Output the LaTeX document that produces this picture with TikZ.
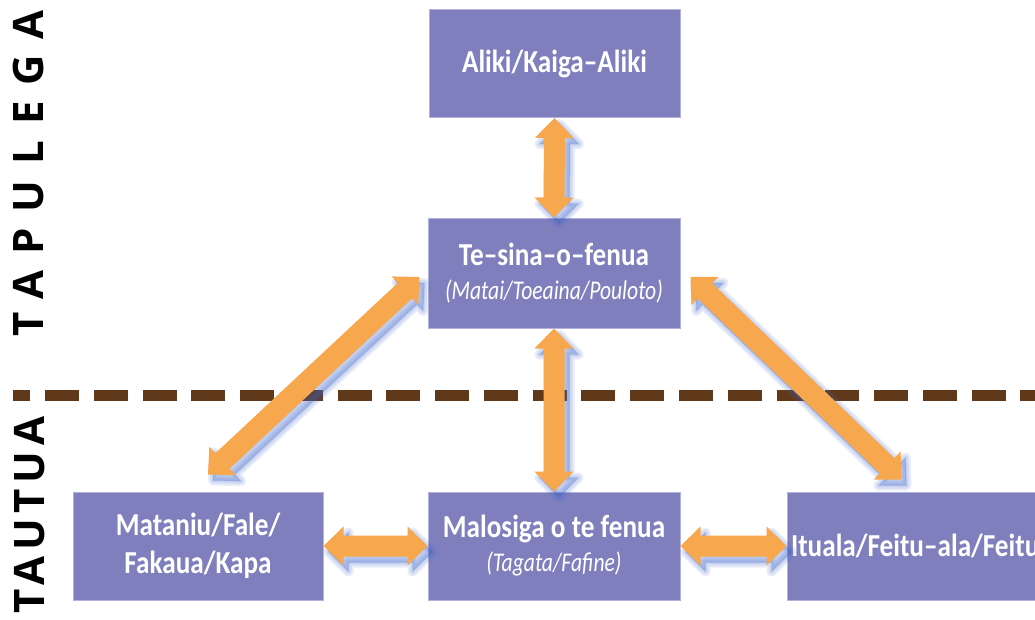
\documentclass[tikz,border=0pt]{standalone}
\usepackage{fontspec}
\setmainfont{Carlito}
\newfontfamily\boxfont{Carlito}[FakeStretch=0.85]
\newfontfamily\itboxfont{Carlito}[FakeStretch=0.8]
\newfontfamily\sidefont{Open Sans}
\usetikzlibrary{calc}
\definecolor{boxfill}{RGB}{127,127,190}
\definecolor{boxline}{RGB}{178,178,222}
\definecolor{arrorange}{RGB}{247,167,77}
\definecolor{shadowblue}{RGB}{60,100,200}
\definecolor{dashbrown}{RGB}{96,57,26}
\newcommand{\boldline}{\fontsize{32}{34}\selectfont\bfseries}
\newcommand{\itline}{\itboxfont\fontsize{27}{34}\selectfont\mdseries\itshape}
\newcommand{\arrpoly}[2]{(#1) -- ($(a1)!19.5pt!90:(#2)$) -- ($(a1)!10.5pt!90:(#2)$) -- ($(b1)!10.5pt!-90:(#1)$) -- ($(b1)!19.5pt!-90:(#1)$) -- (#2) -- ($(b1)!19.5pt!90:(#1)$) -- ($(b1)!10.5pt!90:(#1)$) -- ($(a1)!10.5pt!-90:(#2)$) -- ($(a1)!19.5pt!-90:(#2)$) -- cycle}
\newcommand{\dbarrow}[2]{%
  \coordinate (a1) at ($(#1)!20pt!(#2)$);
  \coordinate (b1) at ($(#2)!20pt!(#1)$);
  \begin{scope}[transform canvas={xshift=5pt,yshift=-6pt}]
    \foreach \w in {10,6,2}{\filldraw[shadowlayer, line width=\w pt] \arrpoly{#1}{#2};}
  \end{scope}
  \fill[arrorange] \arrpoly{#1}{#2};
}
\begin{document}
\begin{tikzpicture}[x=1pt,y=-1pt,
  blockbox/.style={draw=boxline, line width=1pt, fill=boxfill, text=white,
    minimum width=251pt, minimum height=108pt, inner sep=0pt, align=center,
    font=\boxfont\boldline},
  shadowlayer/.style={draw=shadowblue, fill=shadowblue, draw opacity=0.12,
    fill opacity=0.12, line join=round},
  sidelabel/.style={rotate=90, inner sep=0pt, text=black},
  dashline/.style={dashbrown, line width=11pt, dash pattern=on 34pt off 14.77pt, dash phase=16.77pt}
]
\useasboundingbox (0,0) rectangle (1035,619);
\clip (0,0) rectangle (1035,619);

% side labels
\node[sidelabel, font={\sidefont\fontsize{42}{42}\selectfont\bfseries\addfontfeature{LetterSpace=38}}] (tapulega) at (28.5,173.5) {TAPULEGA};
\node[sidelabel, font={\sidefont\fontsize{42}{42}\selectfont\bfseries\addfontfeature{LetterSpace=14}}] (tautua) at (30,515) {TAUTUA};

% dashed divider
\coordinate (dashL) at (13,395);
\coordinate (dashR) at (1035,395);
\draw[dashline] (dashL) -- (dashR);

% boxes
\node[blockbox] (top) at (554.5,63.5) {Aliki/Kaiga–Aliki};
\node[blockbox, minimum width=252pt, minimum height=110pt] (mid) at (554,273) {Te–sina–o–fenua\\{\itline (Matai/Toeaina/Pouloto)}};
\node[blockbox, minimum width=250pt] (bl) at (198,546) {Mataniu/Fale/\\[4pt]Fakaua/Kapa};
\node[blockbox, minimum width=252pt] (bc) at (554,546) {Malosiga o te fenua\\{\itline (Tagata/Fafine)}};
\node[blockbox, minimum width=270pt, text width=262pt, align=left] (br) at (922,546) {Ituala/Feitu–ala/Feitu};

% connector end points
\coordinate (dlA) at ($(mid.west)+(-8,4)$);
\coordinate (dlB) at ($(bl.north)+(10,-17)$);
\coordinate (drA) at ($(mid.east)+(10,4)$);
\coordinate (drB) at ($(br.north west)+(115,-12)$);

% arrows
\dbarrow{top.south}{mid.north}
\dbarrow{mid.south}{bc.north}
\dbarrow{dlA}{dlB}
\dbarrow{drA}{drB}
\dbarrow{bl.east}{bc.west}
\dbarrow{bc.east}{br.west}
\end{tikzpicture}
\end{document}
